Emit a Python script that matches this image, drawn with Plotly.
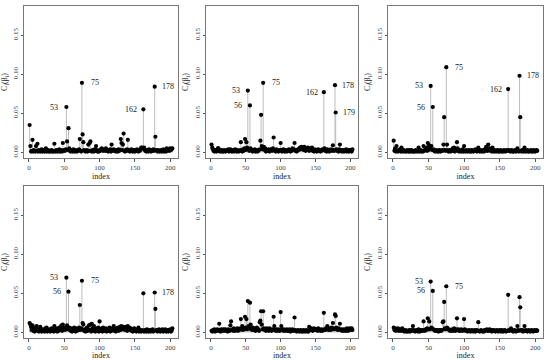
import plotly.graph_objects as go

index = list(range(1, 204))

p1_vals = [
    0.035, 0.008, 0.001, 0.002, 0.016, 0.001, 0.003, 0.002, 0.001, 0.008,
    0.002, 0.011, 0.001, 0.003, 0.002, 0.001, 0.002, 0.004, 0.001, 0.002,
    0.003, 0.001, 0.002, 0.005, 0.001, 0.002, 0.003, 0.001, 0.002, 0.001,
    0.002, 0.003, 0.001, 0.002, 0.001, 0.011, 0.002, 0.001, 0.003, 0.002,
    0.001, 0.002, 0.004, 0.001, 0.002, 0.003, 0.001, 0.012, 0.002, 0.003,
    0.002, 0.004, 0.058, 0.014, 0.003, 0.031, 0.005, 0.002, 0.001, 0.003,
    0.002, 0.001, 0.004, 0.002, 0.001, 0.003, 0.002, 0.001, 0.002, 0.003,
    0.004, 0.017, 0.002, 0.001, 0.089, 0.023, 0.013, 0.003, 0.002, 0.001,
    0.002, 0.003, 0.001, 0.010, 0.002, 0.012, 0.014, 0.002, 0.001, 0.003,
    0.002, 0.001, 0.004, 0.002, 0.008, 0.003, 0.001, 0.002, 0.001, 0.003,
    0.002, 0.004, 0.005, 0.003, 0.002, 0.004, 0.003, 0.002, 0.005, 0.003,
    0.002, 0.001, 0.003, 0.002, 0.004, 0.001, 0.010, 0.003, 0.002, 0.004,
    0.003, 0.002, 0.001, 0.003, 0.002, 0.001, 0.004, 0.002, 0.003, 0.017,
    0.012, 0.003, 0.010, 0.024, 0.002, 0.001, 0.003, 0.002, 0.004, 0.016,
    0.002, 0.003, 0.001, 0.002, 0.004, 0.003, 0.001, 0.002, 0.003, 0.001,
    0.002, 0.003, 0.004, 0.002, 0.001, 0.003, 0.002, 0.004, 0.006, 0.006,
    0.005, 0.055, 0.006, 0.003, 0.002, 0.001, 0.003, 0.002, 0.001, 0.004,
    0.002, 0.003, 0.001, 0.002, 0.003, 0.004, 0.002, 0.084, 0.020, 0.003,
    0.002, 0.001, 0.003, 0.002, 0.001, 0.002, 0.003, 0.001, 0.002, 0.004,
    0.001, 0.002, 0.003, 0.001, 0.005, 0.002, 0.003, 0.004, 0.002, 0.005,
    0.003, 0.004, 0.005,
]

p2_vals = [
    0.010, 0.006, 0.004, 0.002, 0.001, 0.003, 0.002, 0.001, 0.003, 0.005,
    0.005, 0.002, 0.001, 0.002, 0.003, 0.001, 0.002, 0.001, 0.003, 0.002,
    0.001, 0.002, 0.003, 0.002, 0.004, 0.001, 0.002, 0.004, 0.003, 0.001,
    0.002, 0.003, 0.001, 0.002, 0.004, 0.002, 0.001, 0.003, 0.002, 0.001,
    0.002, 0.003, 0.013, 0.002, 0.001, 0.004, 0.002, 0.005, 0.017, 0.003,
    0.013, 0.006, 0.079, 0.004, 0.002, 0.060, 0.005, 0.003, 0.002, 0.001,
    0.003, 0.002, 0.004, 0.001, 0.002, 0.003, 0.001, 0.002, 0.003, 0.004,
    0.015, 0.048, 0.008, 0.004, 0.089, 0.007, 0.003, 0.005, 0.001, 0.002,
    0.003, 0.002, 0.004, 0.001, 0.002, 0.004, 0.003, 0.002, 0.005, 0.019,
    0.003, 0.002, 0.001, 0.004, 0.002, 0.003, 0.001, 0.002, 0.003, 0.012,
    0.003, 0.001, 0.002, 0.004, 0.002, 0.001, 0.003, 0.002, 0.001, 0.002,
    0.003, 0.004, 0.002, 0.001, 0.003, 0.002, 0.005, 0.003, 0.004, 0.012,
    0.002, 0.003, 0.001, 0.002, 0.004, 0.003, 0.005, 0.006, 0.004, 0.007,
    0.005, 0.006, 0.003, 0.007, 0.004, 0.002, 0.005, 0.003, 0.006, 0.004,
    0.002, 0.005, 0.003, 0.004, 0.006, 0.002, 0.003, 0.001, 0.004, 0.002,
    0.003, 0.001, 0.002, 0.004, 0.003, 0.002, 0.001, 0.003, 0.002, 0.004,
    0.003, 0.077, 0.005, 0.002, 0.003, 0.001, 0.004, 0.002, 0.003, 0.001,
    0.002, 0.004, 0.003, 0.002, 0.009, 0.003, 0.002, 0.086, 0.051, 0.004,
    0.002, 0.003, 0.001, 0.004, 0.010, 0.003, 0.002, 0.001, 0.003, 0.002,
    0.001, 0.003, 0.002, 0.004, 0.001, 0.002, 0.003, 0.001, 0.002, 0.003,
    0.002, 0.001, 0.004,
]

p3_vals = [
    0.015, 0.002, 0.005, 0.001, 0.008, 0.002, 0.001, 0.003, 0.002, 0.004,
    0.001, 0.006, 0.002, 0.001, 0.003, 0.002, 0.001, 0.002, 0.001, 0.003,
    0.002, 0.001, 0.003, 0.001, 0.002, 0.003, 0.001, 0.002, 0.001, 0.002,
    0.001, 0.003, 0.002, 0.001, 0.002, 0.006, 0.001, 0.002, 0.003, 0.001,
    0.002, 0.001, 0.008, 0.002, 0.003, 0.004, 0.006, 0.002, 0.012, 0.003,
    0.009, 0.005, 0.085, 0.008, 0.003, 0.058, 0.004, 0.002, 0.001, 0.002,
    0.003, 0.001, 0.002, 0.001, 0.003, 0.002, 0.001, 0.002, 0.003, 0.002,
    0.010, 0.045, 0.003, 0.002, 0.109, 0.010, 0.003, 0.001, 0.002, 0.003,
    0.001, 0.002, 0.003, 0.005, 0.002, 0.006, 0.001, 0.002, 0.003, 0.013,
    0.005, 0.002, 0.001, 0.003, 0.002, 0.001, 0.002, 0.004, 0.001, 0.008,
    0.002, 0.001, 0.003, 0.002, 0.001, 0.002, 0.003, 0.001, 0.002, 0.001,
    0.003, 0.002, 0.001, 0.002, 0.003, 0.004, 0.002, 0.001, 0.003, 0.006,
    0.002, 0.001, 0.003, 0.002, 0.001, 0.002, 0.003, 0.001, 0.004, 0.002,
    0.007, 0.004, 0.002, 0.010, 0.003, 0.005, 0.002, 0.004, 0.001, 0.006,
    0.002, 0.001, 0.003, 0.002, 0.001, 0.002, 0.003, 0.001, 0.002, 0.001,
    0.003, 0.002, 0.001, 0.002, 0.001, 0.003, 0.002, 0.001, 0.002, 0.003,
    0.002, 0.081, 0.003, 0.002, 0.001, 0.002, 0.003, 0.001, 0.002, 0.001,
    0.002, 0.003, 0.001, 0.002, 0.005, 0.002, 0.001, 0.098, 0.045, 0.002,
    0.001, 0.003, 0.002, 0.001, 0.006, 0.002, 0.001, 0.002, 0.003, 0.001,
    0.002, 0.001, 0.002, 0.003, 0.001, 0.002, 0.001, 0.003, 0.002, 0.001,
    0.002, 0.003, 0.002,
]

p4_vals = [
    0.012, 0.010, 0.007, 0.003, 0.009, 0.002, 0.005, 0.001, 0.006, 0.003,
    0.008, 0.002, 0.004, 0.001, 0.003, 0.007, 0.002, 0.001, 0.004, 0.002,
    0.003, 0.001, 0.005, 0.002, 0.006, 0.001, 0.003, 0.002, 0.004, 0.001,
    0.003, 0.005, 0.002, 0.004, 0.001, 0.008, 0.003, 0.002, 0.005, 0.001,
    0.004, 0.002, 0.006, 0.003, 0.005, 0.009, 0.002, 0.010, 0.004, 0.006,
    0.003, 0.005, 0.070, 0.009, 0.004, 0.052, 0.006, 0.003, 0.002, 0.005,
    0.001, 0.004, 0.002, 0.006, 0.003, 0.001, 0.005, 0.002, 0.004, 0.003,
    0.006, 0.035, 0.003, 0.005, 0.066, 0.012, 0.010, 0.002, 0.004, 0.001,
    0.003, 0.006, 0.002, 0.004, 0.009, 0.003, 0.010, 0.001, 0.011, 0.005,
    0.002, 0.008, 0.004, 0.001, 0.003, 0.005, 0.002, 0.006, 0.001, 0.014,
    0.003, 0.002, 0.005, 0.001, 0.006, 0.004, 0.002, 0.003, 0.005, 0.001,
    0.004, 0.002, 0.003, 0.006, 0.001, 0.004, 0.002, 0.005, 0.003, 0.008,
    0.002, 0.004, 0.001, 0.005, 0.003, 0.006, 0.002, 0.004, 0.007, 0.003,
    0.008, 0.005, 0.007, 0.004, 0.006, 0.003, 0.007, 0.005, 0.002, 0.008,
    0.004, 0.006, 0.003, 0.005, 0.002, 0.004, 0.001, 0.003, 0.005, 0.002,
    0.003, 0.001, 0.004, 0.002, 0.006, 0.001, 0.003, 0.002, 0.001, 0.003,
    0.002, 0.050, 0.001, 0.003, 0.002, 0.001, 0.004, 0.002, 0.001, 0.003,
    0.002, 0.001, 0.003, 0.002, 0.004, 0.001, 0.002, 0.051, 0.030, 0.003,
    0.002, 0.001, 0.003, 0.004, 0.002, 0.001, 0.003, 0.002, 0.004, 0.001,
    0.003, 0.002, 0.004, 0.001, 0.003, 0.002, 0.001, 0.003, 0.002, 0.004,
    0.001, 0.002, 0.005,
]

p5_vals = [
    0.002, 0.001, 0.003, 0.002, 0.004, 0.001, 0.003, 0.002, 0.004, 0.003,
    0.002, 0.011, 0.003, 0.001, 0.004, 0.002, 0.003, 0.004, 0.002, 0.003,
    0.004, 0.002, 0.003, 0.001, 0.004, 0.003, 0.002, 0.009, 0.014, 0.003,
    0.004, 0.002, 0.005, 0.003, 0.002, 0.004, 0.003, 0.005, 0.002, 0.004,
    0.003, 0.005, 0.017, 0.004, 0.008, 0.003, 0.005, 0.004, 0.020, 0.006,
    0.017, 0.004, 0.040, 0.008, 0.005, 0.038, 0.010, 0.004, 0.003, 0.006,
    0.004, 0.003, 0.005, 0.002, 0.004, 0.006, 0.003, 0.004, 0.002, 0.013,
    0.015, 0.027, 0.010, 0.004, 0.027, 0.005, 0.003, 0.004, 0.002, 0.005,
    0.003, 0.004, 0.002, 0.005, 0.003, 0.004, 0.002, 0.003, 0.004, 0.020,
    0.008, 0.003, 0.002, 0.004, 0.003, 0.002, 0.004, 0.003, 0.002, 0.026,
    0.008, 0.004, 0.003, 0.002, 0.004, 0.003, 0.002, 0.003, 0.004, 0.002,
    0.003, 0.002, 0.004, 0.001, 0.003, 0.002, 0.004, 0.003, 0.002, 0.019,
    0.003, 0.002, 0.001, 0.002, 0.003, 0.002, 0.001, 0.002, 0.003, 0.001,
    0.002, 0.001, 0.003, 0.002, 0.001, 0.002, 0.003, 0.001, 0.002, 0.001,
    0.007, 0.003, 0.004, 0.005, 0.003, 0.002, 0.004, 0.005, 0.003, 0.004,
    0.003, 0.004, 0.002, 0.005, 0.003, 0.004, 0.002, 0.003, 0.004, 0.002,
    0.003, 0.025, 0.004, 0.003, 0.005, 0.004, 0.008, 0.004, 0.003, 0.005,
    0.004, 0.003, 0.006, 0.004, 0.012, 0.005, 0.004, 0.023, 0.021, 0.006,
    0.004, 0.003, 0.005, 0.004, 0.011, 0.003, 0.004, 0.002, 0.003, 0.004,
    0.002, 0.003, 0.004, 0.002, 0.005, 0.003, 0.002, 0.004, 0.005, 0.003,
    0.004, 0.005, 0.003,
]

p6_vals = [
    0.006, 0.003, 0.005, 0.002, 0.004, 0.003, 0.005, 0.002, 0.004, 0.003,
    0.002, 0.004, 0.005, 0.002, 0.003, 0.001, 0.002, 0.003, 0.001, 0.002,
    0.001, 0.002, 0.003, 0.001, 0.002, 0.003, 0.002, 0.008, 0.003, 0.002,
    0.001, 0.002, 0.003, 0.002, 0.001, 0.004, 0.002, 0.001, 0.003, 0.002,
    0.003, 0.002, 0.014, 0.003, 0.002, 0.004, 0.003, 0.005, 0.018, 0.004,
    0.014, 0.004, 0.065, 0.006, 0.005, 0.053, 0.004, 0.003, 0.002, 0.003,
    0.002, 0.003, 0.002, 0.001, 0.003, 0.002, 0.003, 0.002, 0.003, 0.013,
    0.014, 0.039, 0.005, 0.004, 0.059, 0.006, 0.005, 0.004, 0.003, 0.002,
    0.003, 0.002, 0.004, 0.003, 0.002, 0.005, 0.003, 0.002, 0.004, 0.018,
    0.003, 0.004, 0.002, 0.003, 0.002, 0.004, 0.003, 0.002, 0.003, 0.017,
    0.004, 0.002, 0.003, 0.002, 0.001, 0.002, 0.003, 0.002, 0.001, 0.002,
    0.003, 0.002, 0.001, 0.002, 0.003, 0.001, 0.002, 0.003, 0.002, 0.013,
    0.002, 0.001, 0.002, 0.003, 0.002, 0.001, 0.002, 0.001, 0.003, 0.002,
    0.003, 0.004, 0.002, 0.003, 0.002, 0.004, 0.003, 0.002, 0.001, 0.003,
    0.002, 0.003, 0.002, 0.001, 0.002, 0.003, 0.002, 0.001, 0.002, 0.003,
    0.002, 0.001, 0.003, 0.002, 0.001, 0.002, 0.003, 0.002, 0.001, 0.002,
    0.002, 0.048, 0.003, 0.002, 0.003, 0.005, 0.003, 0.002, 0.001, 0.002,
    0.003, 0.002, 0.001, 0.002, 0.008, 0.003, 0.002, 0.045, 0.032, 0.003,
    0.002, 0.003, 0.001, 0.002, 0.008, 0.002, 0.003, 0.002, 0.001, 0.002,
    0.003, 0.002, 0.001, 0.002, 0.003, 0.002, 0.001, 0.002, 0.003, 0.002,
    0.002, 0.003, 0.002,
]

# labelled observations per panel: (index, side)
p1_labels = [(53, "left"), (75, "right"), (162, "left"), (178, "right")]
p2_labels = [(53, "left"), (56, "left"), (75, "right"), (162, "left"), (178, "right"), (179, "right")]
p3_labels = [(53, "left"), (56, "left"), (75, "right"), (162, "left"), (178, "right")]
p4_labels = [(53, "left"), (56, "left"), (75, "right"), (178, "right")]
p5_labels = []
p6_labels = [(53, "left"), (56, "left"), (75, "right")]

x_ticks = [0, 50, 100, 150, 200]
y_ticks = [0.00, 0.05, 0.10, 0.15]
y_tick_text = ["0.00", "0.05", "0.10", "0.15"]

panels = [
    (p1_vals, p1_labels), (p2_vals, p2_labels), (p3_vals, p3_labels),
    (p4_vals, p4_labels), (p5_vals, p5_labels), (p6_vals, p6_labels),
]

W, H = 550, 360
col_px = [(24, 178), (206, 358), (388, 543)]
row_px = [(6, 158), (186, 338)]

FONT = "Liberation Serif"
fig = go.Figure()
annotations = []

for k, (vals, labels) in enumerate(panels):
    r, c = divmod(k, 3)
    n = k + 1
    xa = "x" if n == 1 else f"x{n}"
    ya = "y" if n == 1 else f"y{n}"
    # vertical lines (type = "h")
    lx, ly = [], []
    for i, v in zip(index, vals):
        lx += [i, i, None]
        ly += [0, v, None]
    fig.add_trace(go.Scatter(x=lx, y=ly, mode="lines", xaxis=xa, yaxis=ya,
                             line=dict(color="#bdbdbd", width=1),
                             hoverinfo="skip", showlegend=False))
    fig.add_trace(go.Scatter(x=index, y=vals, mode="markers", xaxis=xa, yaxis=ya,
                             marker=dict(color="black", size=4.2),
                             showlegend=False))
    x0, x1 = col_px[c]
    y0, y1 = row_px[r]
    xkey = "xaxis" if n == 1 else f"xaxis{n}"
    ykey = "yaxis" if n == 1 else f"yaxis{n}"
    fig.layout[xkey] = dict(
        domain=[x0 / W, x1 / W], anchor=ya, range=[-7, 211],
        tickvals=x_ticks, ticks="outside", ticklen=3, tickcolor="#555",
        showline=True, mirror=True, linecolor="#777", linewidth=1,
        showgrid=False, zeroline=False,
        tickfont=dict(family=FONT, size=7, color="#444"),
        title=dict(text="index", font=dict(family=FONT, size=8, color="#222"), standoff=0),
    )
    fig.layout[ykey] = dict(
        domain=[1 - y1 / H, 1 - y0 / H], anchor=xa, range=[-0.0072, 0.1872],
        tickvals=y_ticks, ticktext=y_tick_text, tickangle=-90,
        ticks="outside", ticklen=2, tickcolor="#555",
        showline=True, mirror=True, linecolor="#777", linewidth=1,
        showgrid=False, zeroline=False,
        tickfont=dict(family=FONT, size=7, color="#444"),
        title=dict(text="C<sub>i</sub>(β<sub>i</sub>)", font=dict(family=FONT, size=8, color="#222"), standoff=4),
    )
    for idx, side in labels:
        annotations.append(dict(
            x=idx, y=vals[idx - 1], xref=xa, yref=ya, text=str(idx),
            showarrow=False, xshift=-12 if side == "left" else 13,
            font=dict(family=FONT, size=8, color="#222"),
        ))

fig.update_layout(
    width=W, height=H, margin=dict(l=0, r=0, t=0, b=0),
    paper_bgcolor="white", plot_bgcolor="white",
    annotations=annotations,
)

fig.write_html("out.html", config={"displayModeBar": False},
               post_script="document.body.style.margin='0';document.body.style.overflow='hidden';")
